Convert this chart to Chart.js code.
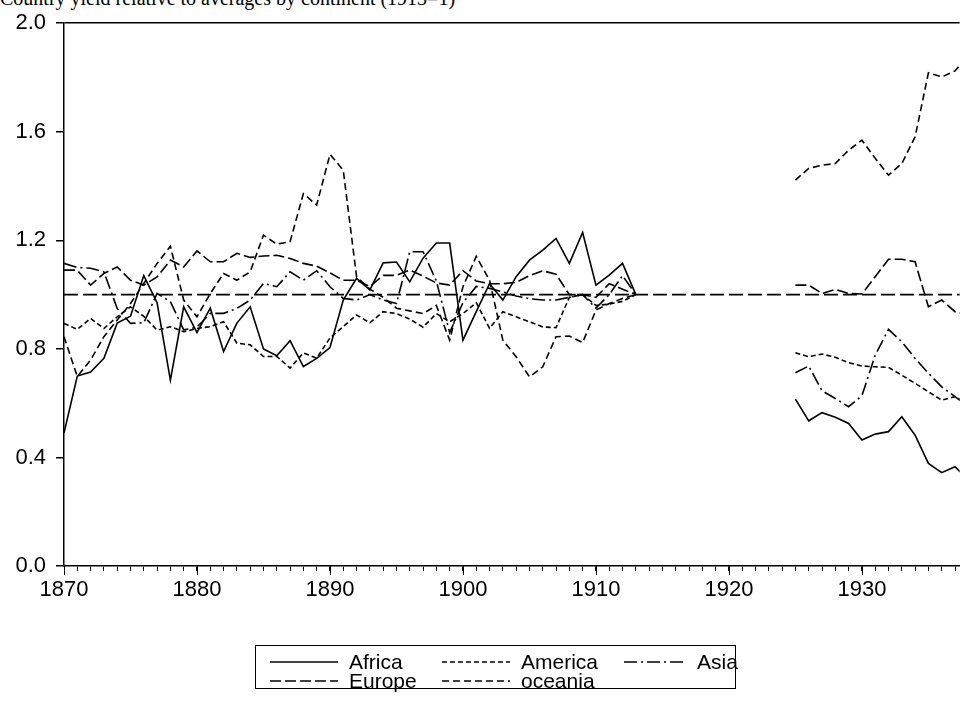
<!DOCTYPE html>
<html lang="en">
<head>
    <meta charset="UTF-8">
    <title>Averages by continent</title>
    <script src="https://cdn.jsdelivr.net/npm/chart.js@4.4.1/dist/chart.umd.min.js"></script>
    <style>
        html, body {
            margin: 0;
            padding: 0;
            background: #fff;
        }
        body {
            width: 961px;
            height: 715px;
            position: relative;
            overflow: hidden;
            font-family: "Liberation Sans", Arial, sans-serif;
        }
        .title {
            position: absolute;
            left: 0;
            top: -12px;
            font: 20px/20px "Liberation Serif", "Times New Roman", serif;
            white-space: nowrap;
            color: #000;
        }
        .chart-box {
            position: absolute;
            left: 0;
            top: 0;
            width: 961px;
            height: 715px;
        }
        #legend {
            position: absolute;
            left: 255px;
            top: 645px;
            width: 481px;
            height: 44px;
            border: 1px solid #000;
            box-sizing: border-box;
            font-size: 21px;
            color: #000;
        }
        .item {
            position: absolute;
            display: flex;
            align-items: center;
            height: 20px;
            line-height: 20px;
        }
        .item svg {
            margin-right: 11px;
        }
    </style>
</head>
<body>
<div class="title">Country yield relative to averages by continent (1913=1)</div>
<div class="chart-box">
    <canvas id="contChart" width="961" height="715"></canvas>
</div>
<div id="legend"></div>

<script>
    // years on the x axis, 1870 - 1938 (1914-1924 missing)
    const years = [];
    for (let y = 1870; y <= 1938; y++) years.push(y);
    const warGap = Array(11).fill(null);

    // 1870 - 1913
    const africaPre = [0.49, 0.70, 0.715, 0.765, 0.895, 0.92, 1.07, 0.97, 0.685, 0.955,
        0.86, 0.95, 0.79, 0.895, 0.955, 0.80, 0.775, 0.83, 0.735, 0.765,
        0.805, 0.98, 1.06, 1.017, 1.117, 1.12, 1.047, 1.134, 1.19, 1.19,
        0.832, 0.937, 1.04, 0.98, 1.066, 1.127, 1.164, 1.207, 1.115, 1.229,
        1.035, 1.072, 1.115, 1.0];
    const americaPre = [0.894, 0.872, 0.912, 0.875, 0.918, 0.955, 0.92, 0.869, 0.882, 0.863,
        0.875, 0.882, 0.90, 0.821, 0.815, 0.772, 0.772, 0.729, 0.785, 0.766,
        0.84, 0.882, 0.925, 0.896, 0.937, 0.93, 0.91, 0.88, 0.93, 0.90,
        0.93, 0.97, 0.876, 0.937, 0.918, 0.90, 0.881, 0.878, 0.99, 1.0,
        0.96, 0.965, 0.975, 1.0];
    const asiaPre = [1.115, 1.10, 1.097, 1.084, 0.949, 0.894, 0.896, 1.004, 0.974, 0.87,
        0.88, 0.931, 0.931, 0.949, 0.98, 1.041, 1.029, 1.084, 1.053, 1.088,
        1.029, 0.986, 0.98, 1.0, 0.98, 0.967, 1.158, 1.158, 1.05, 0.86,
        0.97, 1.03, 1.023, 1.01, 0.995, 0.985, 0.98, 0.98, 0.99, 1.0,
        0.95, 1.0, 1.07, 1.0];
    const europePre = [1.09, 1.09, 1.035, 1.078, 1.102, 1.053, 1.035, 1.065, 1.127, 1.102,
        1.161, 1.121, 1.121, 1.152, 1.137, 1.142, 1.145, 1.133, 1.115, 1.105,
        1.08, 1.053, 1.053, 1.03, 1.071, 1.071, 1.09, 1.068, 1.043, 1.035,
        1.088, 1.05, 1.04, 1.04, 1.045, 1.07, 1.088, 1.075, 1.0, 1.0,
        0.99, 1.04, 1.02, 1.0];
    const oceaniaPre = [0.845, 0.698, 0.759, 0.845, 0.906, 0.967, 1.041, 1.115, 1.178, 0.98,
        0.918, 1.004, 1.078, 1.053, 1.084, 1.219, 1.186, 1.195, 1.372, 1.33,
        1.517, 1.458, 1.066, 1.02, 0.99, 0.95, 0.94, 0.93, 0.96, 0.832,
        1.029, 1.141, 1.053, 0.832, 0.771, 0.697, 0.734, 0.845, 0.847, 0.823,
        0.943, 0.967, 0.986, 1.0];

    // 1925 - 1938
    const africaPost = [0.615, 0.535, 0.565, 0.548, 0.525, 0.464, 0.486, 0.495, 0.55, 0.482, 0.378, 0.344, 0.366, 0.317];
    const americaPost = [0.786, 0.771, 0.781, 0.769, 0.749, 0.737, 0.734, 0.732, 0.703, 0.673, 0.642, 0.611, 0.624, 0.60];
    const asiaPost = [0.712, 0.737, 0.646, 0.617, 0.587, 0.627, 0.777, 0.872, 0.826, 0.765, 0.71, 0.66, 0.624, 0.587];
    const europePost = [1.035, 1.035, 1.004, 1.019, 1.004, 1.002, 1.066, 1.13, 1.13, 1.121, 0.955, 0.98, 0.937, 0.925];
    const oceaniaPost = [1.422, 1.465, 1.477, 1.483, 1.532, 1.569, 1.502, 1.44, 1.483, 1.581, 1.817, 1.802, 1.824, 1.88];

    const refLevel = 1.0;
    const yTicks = [0, 0.4, 0.8, 1.2, 1.6, 2.0];

    const FONT = '"Liberation Sans", Arial, sans-serif';

    function series(pre, post) {
        const vals = pre.concat(warGap, post);
        return years.map((yr, i) => ({ x: yr, y: vals[i] }));
    }

    const seriesDefs = [
        { label: 'Africa', data: series(africaPre, africaPost), dash: [] },
        { label: 'America', data: series(americaPre, americaPost), dash: [5, 3] },
        { label: 'Asia', data: series(asiaPre, asiaPost), dash: [13, 4, 2, 4] },
        { label: 'Europe', data: series(europePre, europePost), dash: [11, 4] },
        { label: 'oceania', data: series(oceaniaPre, oceaniaPost), dash: [7, 4] }
    ];

    const datasets = seriesDefs.map(s => ({
        label: s.label,
        data: s.data,
        borderColor: '#000',
        borderWidth: 1.6,
        borderDash: s.dash,
        pointRadius: 0,
        tension: 0,
        spanGaps: false
    }));
    // horizontal line at 1
    datasets.push({
        label: 'ref',
        data: [{ x: years[0], y: refLevel }, { x: years[years.length - 1], y: refLevel }],
        borderColor: '#000',
        borderWidth: 1.6,
        borderDash: [14, 5],
        pointRadius: 0
    });

    // longer tick marks for every 10th year
    const majorTicks = {
        id: 'majorTicks',
        afterDraw(chart) {
            const xs = chart.scales.x;
            const ctx = chart.ctx;
            const bottom = chart.chartArea.bottom;
            ctx.save();
            ctx.strokeStyle = '#000';
            ctx.lineWidth = 1;
            for (let v = 1870; v <= xs.max; v += 10) {
                const px = Math.round(xs.getPixelForValue(v)) + 0.5;
                ctx.beginPath();
                ctx.moveTo(px, bottom);
                ctx.lineTo(px, bottom + 9);
                ctx.stroke();
            }
            ctx.restore();
        }
    };

    const ctx = document.getElementById('contChart').getContext('2d');
    const contChart = new Chart(ctx, {
        type: 'line',
        data: { datasets: datasets },
        options: {
            responsive: false,
            animation: false,
            layout: { padding: { top: 23, right: 0, bottom: 109, left: 0 } },
            plugins: {
                legend: { display: false },
                tooltip: { enabled: false }
            },
            scales: {
                x: {
                    type: 'linear',
                    min: 1870,
                    max: 1937.35,
                    border: { display: true, color: '#000', width: 1.5 },
                    grid: { drawOnChartArea: false, drawTicks: true, tickLength: 5, color: '#000', lineWidth: 1 },
                    ticks: {
                        stepSize: 1,
                        autoSkip: false,
                        includeBounds: false,
                        maxRotation: 0,
                        color: '#000',
                        padding: 6,
                        font: { family: FONT, size: 22 },
                        callback: v => (v % 10 === 0 ? String(v) : '')
                    },
                    afterFit: s => { s.height = 40; }
                },
                y: {
                    min: 0,
                    max: 2,
                    border: { display: true, color: '#000', width: 1.5 },
                    grid: {
                        drawOnChartArea: true,
                        drawTicks: true,
                        tickLength: 8,
                        tickColor: '#000',
                        lineWidth: 1.5,
                        color: c => (c.tick && c.tick.value === 2 ? '#000' : 'rgba(0,0,0,0)')
                    },
                    afterBuildTicks: s => { s.ticks = yTicks.map(v => ({ value: v })); },
                    ticks: {
                        color: '#000',
                        padding: 10,
                        font: { family: FONT, size: 22 },
                        callback: v => Number(v).toFixed(1)
                    },
                    afterFit: s => { s.width = 64; }
                }
            }
        },
        plugins: [majorTicks]
    });

    // legend box like the original (3 + 2 items)
    const legendPos = [[14, 6], [186, 6], [368, 6], [14, 25], [186, 25]];
    const legendEl = document.getElementById('legend');
    seriesDefs.forEach((s, i) => {
        const item = document.createElement('div');
        item.className = 'item';
        item.style.left = legendPos[i][0] + 'px';
        item.style.top = legendPos[i][1] + 'px';
        const w = i === 2 ? 62 : 68;
        item.innerHTML = '<svg width="' + w + '" height="6"><line x1="0" y1="3" x2="' + w + '" y2="3" stroke="#000" stroke-width="1.5" stroke-dasharray="' +
            (s.dash.length ? s.dash.join(',') : 'none') + '"/></svg><span>' + s.label + '</span>';
        legendEl.appendChild(item);
    });
</script>
</body>
</html>
